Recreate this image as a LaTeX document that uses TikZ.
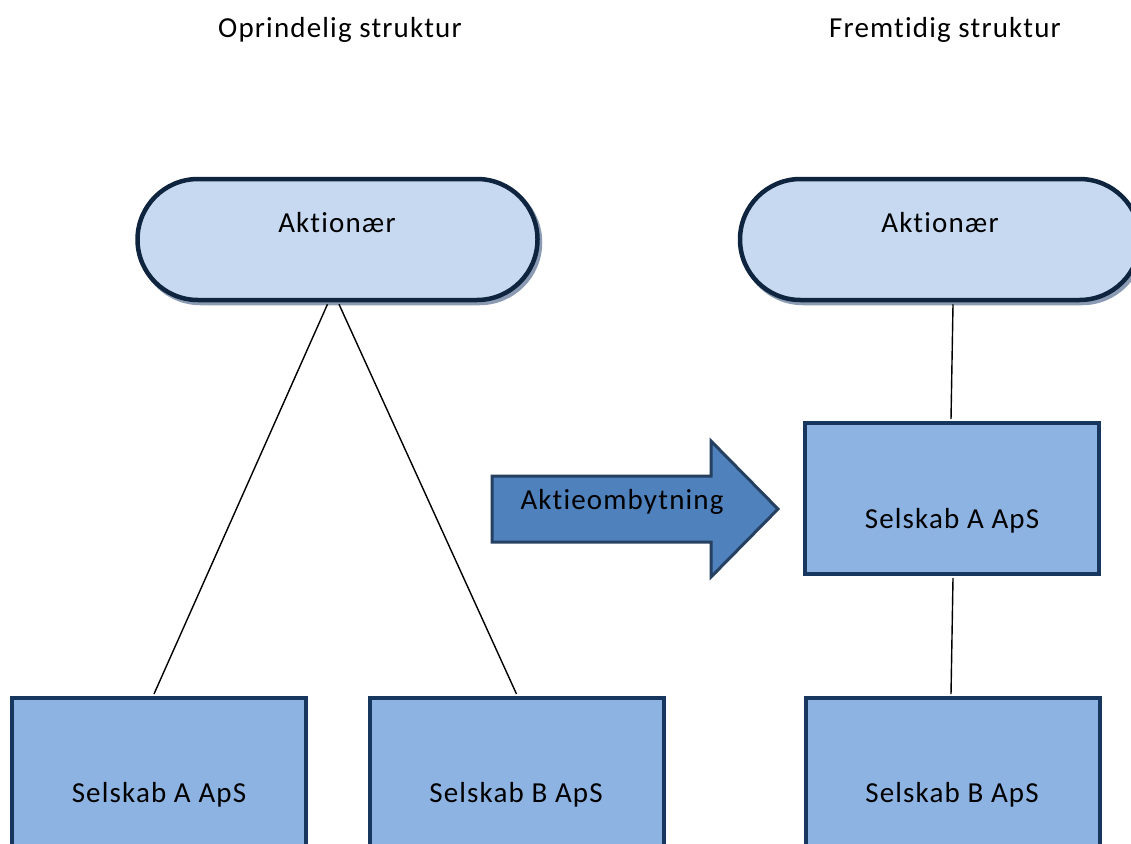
\documentclass[tikz,border=0pt]{standalone}
\usepackage{fontspec}
\setmainfont[Ligatures=NoCommon, LetterSpace=4]{Carlito}
\usetikzlibrary{shapes.misc,calc}

\definecolor{ownerline}{HTML}{0F243E}
\definecolor{ownerfill}{HTML}{C6D9F1}
\definecolor{ownershadow}{HTML}{8A9BB3}
\definecolor{boxline}{HTML}{17375E}
\definecolor{boxfill}{HTML}{8DB3E2}
\definecolor{arrowfill}{HTML}{4F81BD}
\definecolor{arrowline}{HTML}{254061}

\begin{document}
\begin{tikzpicture}[x=1pt,y=-1pt,
  owner/.style={rounded rectangle, draw=ownerline, line width=4.5pt, fill=ownerfill,
                minimum width=400pt, minimum height=121pt, inner sep=0pt},
  ownershade/.style={owner, draw=ownershadow, fill=ownershadow},
  company/.style={rectangle, draw=boxline, line width=4pt, fill=boxfill,
                  minimum width=294pt, minimum height=152pt, inner sep=0pt},
  link/.style={draw=black, line width=1.4pt},
  caption/.style={font=\fontsize{29}{34}\selectfont, inner sep=0pt, anchor=center},
]
\useasboundingbox (0,0) rectangle (1131,843);
\clip (0,0) rectangle (1131,843);

% headings
\node[caption] (titleL) at (340,30) {Oprindelig struktur};
\node[caption] (titleR) at (945,30) {Fremtidig struktur};

% original structure
\node[ownershade] (ownLs) at (340,242.5) {};
\node[owner] (ownL) at (337.5,239.5) {};
\node[caption] (ownLtxt) at (337,223) {Aktionær};

\node[company] (coA) at (158.5,774) {};
\node[caption] (coAtxt) at (159,795) {Selskab A ApS};
\node[company] (coB) at (516.5,774) {};
\node[caption] (coBtxt) at (516,795) {Selskab B ApS};

\draw[link] ($(ownL.south)+(-10,2)$) -- ($(coA.north)+(-4.5,-2)$);
\draw[link] ($(ownL.south)+(1.5,2)$) -- ($(coB.north)+(0,-2)$);

% share exchange arrow
\draw[draw=arrowline, fill=arrowfill, line width=3pt, line join=miter]
  (492,476) -- (711,476) -- (711,441) -- (778,509) -- (711,577) -- (711,542) -- (492,542) -- cycle;
\node[caption] (swap) at (622,502) {Aktieombytning};

% future structure
\node[ownershade] (ownRs) at (942.5,242.5) {};
\node[owner] (ownR) at (940,239.5) {};
\node[caption] (ownRtxt) at (940,223) {Aktionær};

\node[company, minimum height=151pt] (newA) at (952,498.5) {};
\node[caption] (newAtxt) at (952,521) {Selskab A ApS};
\node[company] (newB) at (952.5,774) {};
\node[caption] (newBtxt) at (952,795) {Selskab B ApS};

\draw[link] ($(ownR.south)+(13,2)$) -- ($(newA.north)+(-1,-2)$);
\draw[link] ($(newA.south)+(1,2)$) -- ($(newB.north)+(-1.5,-2)$);
\end{tikzpicture}
\end{document}
